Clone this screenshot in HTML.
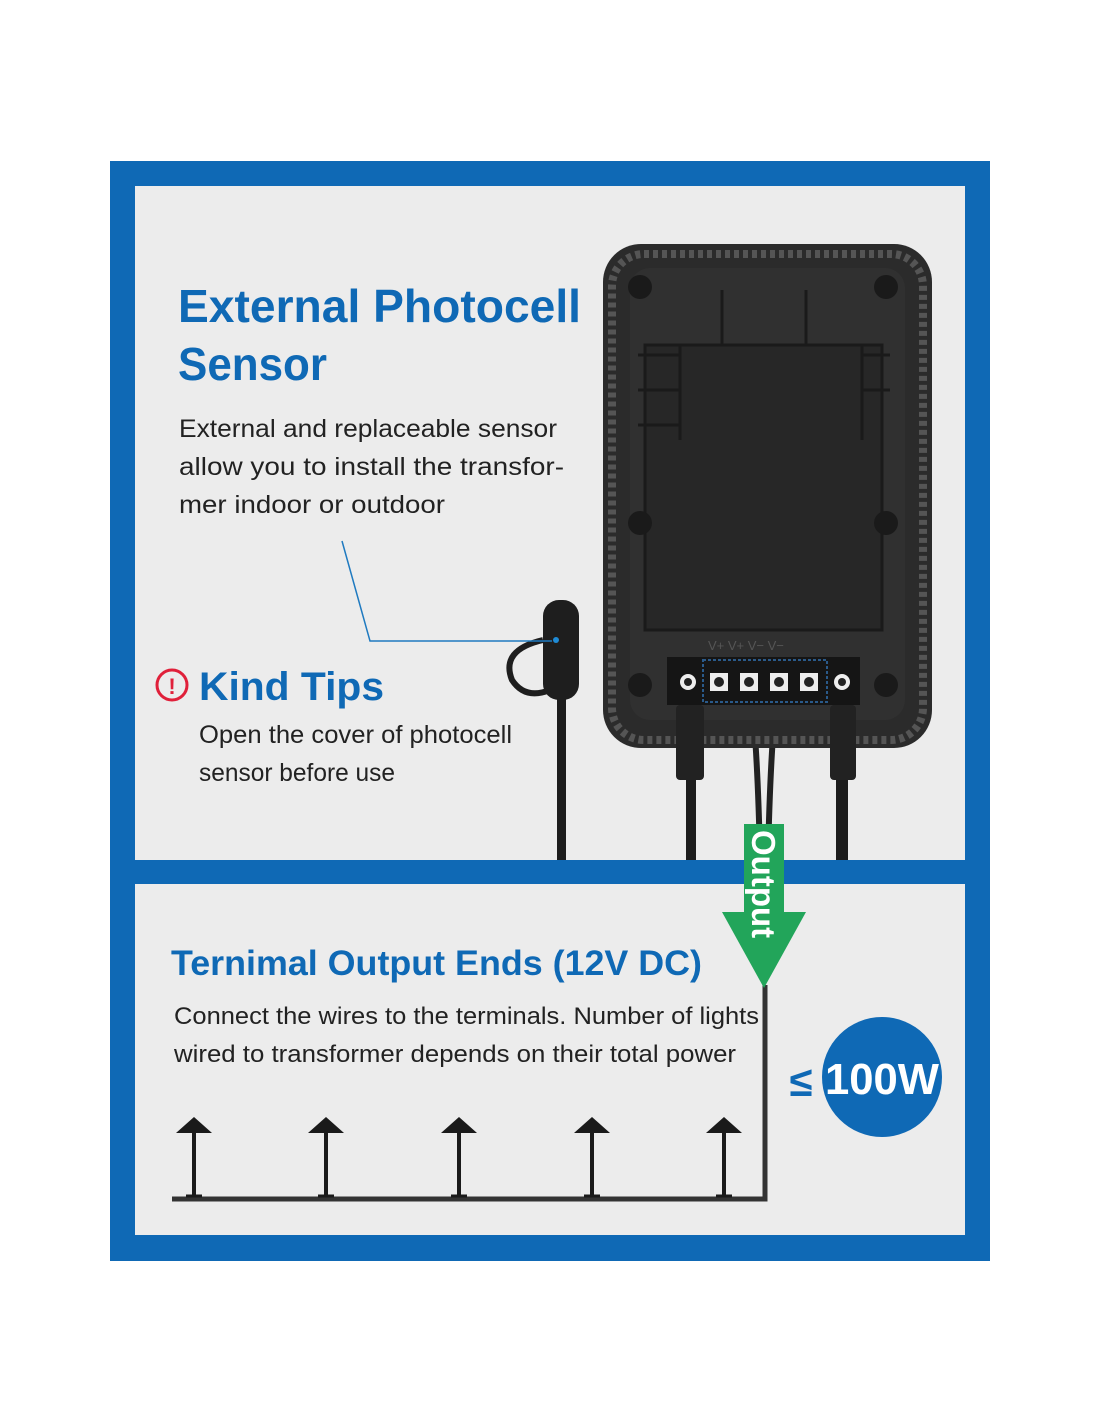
<!DOCTYPE html>
<html><head><meta charset="utf-8"><style>
html,body{margin:0;padding:0;background:#fff;}
svg{display:block}
.t{font-family:"Liberation Sans","DejaVu Sans",sans-serif;}
</style></head><body>
<svg width="1100" height="1422" viewBox="0 0 1100 1422" xmlns="http://www.w3.org/2000/svg" class="t">
<rect width="1100" height="1422" fill="#fff"/>
<rect x="110" y="161" width="880" height="1100" fill="#0f69b5"/>
<rect x="135" y="186" width="830" height="674" fill="#ececec"/>
<rect x="135" y="884" width="830" height="351" fill="#ececec"/>

<rect x="686" y="700" width="10" height="160" fill="#1c1c1c"/>
<rect x="836" y="700" width="12" height="160" fill="#1c1c1c"/>
<path d="M752 700 Q758 760 760 860" stroke="#222" stroke-width="6" fill="none"/>
<path d="M776 700 Q770 760 768 860" stroke="#222" stroke-width="6" fill="none"/>
<rect x="557" y="680" width="9" height="180" fill="#1c1c1c"/>

<rect x="603" y="244" width="329" height="504" rx="38" fill="#2b2b2b"/>
<rect x="612" y="254" width="311" height="486" rx="32" fill="none" stroke="#555" stroke-width="8" stroke-dasharray="5 4"/>
<rect x="630" y="268" width="275" height="452" rx="20" fill="#303030"/>
<rect x="645" y="345" width="237" height="285" fill="#272727" stroke="#1a1a1a" stroke-width="3"/>
<path d="M680 345 V440 M862 345 V440 M722 290 V345 M806 290 V345 M638 355 H680 M638 390 H680 M638 425 H680 M862 355 H890 M862 390 H890" stroke="#1a1a1a" stroke-width="3"/>
<circle cx="640" cy="287" r="12" fill="#1a1a1a"/><circle cx="886" cy="287" r="12" fill="#1a1a1a"/>
<circle cx="640" cy="523" r="12" fill="#1a1a1a"/><circle cx="886" cy="523" r="12" fill="#1a1a1a"/>
<circle cx="640" cy="685" r="12" fill="#1a1a1a"/><circle cx="886" cy="685" r="12" fill="#1a1a1a"/>
<text x="708" y="650" font-size="13" fill="#555">V+ V+  V− V−</text>
<rect x="667" y="657" width="193" height="48" fill="#151515"/>
<rect x="703" y="660" width="124" height="42" fill="none" stroke="#2a5a8a" stroke-width="2" stroke-dasharray="3 2"/>
<g fill="#eee">
<circle cx="688" cy="682" r="8"/><rect x="710" y="673" width="18" height="18"/><rect x="740" y="673" width="18" height="18"/><rect x="770" y="673" width="18" height="18"/><rect x="800" y="673" width="18" height="18"/><circle cx="842" cy="682" r="8"/>
</g>
<g fill="#222"><circle cx="688" cy="682" r="4"/><circle cx="719" cy="682" r="5"/><circle cx="749" cy="682" r="5"/><circle cx="779" cy="682" r="5"/><circle cx="809" cy="682" r="5"/><circle cx="842" cy="682" r="4"/></g>
<rect x="676" y="705" width="28" height="75" rx="4" fill="#222"/>
<rect x="830" y="705" width="26" height="75" rx="4" fill="#222"/>

<rect x="543" y="600" width="36" height="100" rx="16" fill="#1e1e1e"/>
<path d="M543 640 Q500 650 512 680 Q525 700 550 690" stroke="#1e1e1e" stroke-width="6" fill="none"/>
<circle cx="556" cy="640" r="3" fill="#1f8bd6"/>
<path d="M342 541 L370 641 L552 641" stroke="#1f7ac0" stroke-width="1.5" fill="none"/>

<text x="178" y="322" font-size="46" font-weight="bold" fill="#0f69b5" textLength="403" lengthAdjust="spacingAndGlyphs">External Photocell</text>
<text x="178" y="380" font-size="46" font-weight="bold" fill="#0f69b5" textLength="149" lengthAdjust="spacingAndGlyphs">Sensor</text>
<g font-size="25" fill="#222">
<text x="179" y="437" textLength="378" lengthAdjust="spacingAndGlyphs">External and replaceable sensor</text>
<text x="179" y="475" textLength="385" lengthAdjust="spacingAndGlyphs">allow you to install the transfor-</text>
<text x="179" y="513" textLength="266" lengthAdjust="spacingAndGlyphs">mer indoor or outdoor</text>
</g>
<circle cx="172" cy="685" r="15" fill="none" stroke="#e0203a" stroke-width="3"/>
<text x="172" y="694" font-size="22" font-weight="bold" fill="#e0203a" text-anchor="middle">!</text>
<text x="199" y="700" font-size="40" font-weight="bold" fill="#0f69b5" textLength="185" lengthAdjust="spacingAndGlyphs">Kind Tips</text>
<g font-size="25" fill="#222">
<text x="199" y="743" textLength="313" lengthAdjust="spacingAndGlyphs">Open the cover of photocell</text>
<text x="199" y="781" textLength="196" lengthAdjust="spacingAndGlyphs">sensor before use</text>
</g>

<text x="171" y="975" font-size="35" font-weight="bold" fill="#0f69b5" textLength="531" lengthAdjust="spacingAndGlyphs">Ternimal Output Ends (12V DC)</text>
<g font-size="24" fill="#222">
<text x="174" y="1024" textLength="585" lengthAdjust="spacingAndGlyphs">Connect the wires to the terminals. Number of lights</text>
<text x="174" y="1062" textLength="562" lengthAdjust="spacingAndGlyphs">wired to transformer depends on their total power</text>
</g>
<path d="M765 985 V1199 H172" stroke="#333" stroke-width="5" fill="none"/>
<g fill="#1a1a1a" stroke="#1a1a1a">
<g id="lamp"><polygon points="176,1133 212,1133 194,1117" stroke="none"/><rect x="192" y="1133" width="4" height="62" stroke="none"/><path d="M186 1196 H202" stroke-width="3"/></g>
<use href="#lamp" x="132"/><use href="#lamp" x="265"/><use href="#lamp" x="398"/><use href="#lamp" x="530"/>
</g>
<rect x="744" y="824" width="40" height="90" fill="#22a55a"/>
<polygon points="722,912 806,912 764,988" fill="#22a55a"/>
<text transform="translate(752,830) rotate(90)" font-size="33" font-weight="bold" fill="#fff">Output</text>
<circle cx="882" cy="1077" r="60" fill="#0f69b5"/>
<text x="882" y="1094" font-size="44" font-weight="bold" fill="#fff" text-anchor="middle" textLength="114" lengthAdjust="spacingAndGlyphs">100W</text>
<text x="801" y="1096" font-size="42" font-weight="bold" fill="#0f69b5" text-anchor="middle">≤</text>
</svg>
</body></html>
